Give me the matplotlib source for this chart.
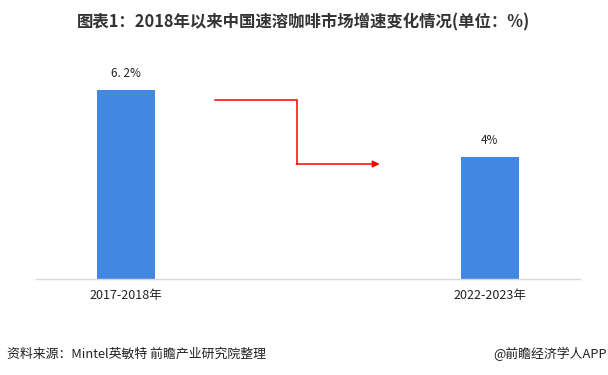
import matplotlib.pyplot as plt

plt.rcParams['font.family'] = ['Noto Sans CJK SC', 'DejaVu Sans']

categories = ['2017-2018年', '2022-2023年']
growth = [6.2, 4.0]
value_labels = ['6. 2%', '4%']

fig = plt.figure(figsize=(6.08, 3.75), dpi=100)
ax = fig.add_axes([36 / 608, (375 - 279) / 375, (580 - 36) / 608, (279 - 60) / 375])

x = [0, 1]
ax.bar(x, growth, width=0.16, color='#4287E2')
for xi, v, lab in zip(x, growth, value_labels):
    ax.text(xi, v + 0.32, lab, ha='center', va='bottom', fontsize=8.5, color='#222222')

ax.set_xlim(-0.248, 1.248)
ax.set_ylim(0, 7.18)
ax.set_xticks(x)
ax.set_xticklabels(categories, fontsize=9, color='#222222')
ax.tick_params(axis='x', length=0, pad=7)
ax.set_yticks([])
for s in ['top', 'right', 'left']:
    ax.spines[s].set_visible(False)
ax.spines['bottom'].set_color('#D9D9D9')
ax.spines['bottom'].set_linewidth(1)

# red step arrow
ax.plot([0.243, 0.47, 0.47], [5.87, 5.87, 3.77], color='red', lw=1.1,
        solid_joinstyle='miter')
ax.annotate('', xy=(0.697, 3.77), xytext=(0.468, 3.77),
            arrowprops=dict(arrowstyle='-|>', color='red', lw=1.1,
                            mutation_scale=10, shrinkA=0, shrinkB=0))

fig.text(0.499, 0.94, '图表1：2018年以来中国速溶咖啡市场增速变化情况(单位：%)',
         ha='center', va='center', fontsize=11.8, fontweight='bold', color='#333333')
fig.text(0.012, 0.056, '资料来源：Mintel英敏特 前瞻产业研究院整理',
         ha='left', va='center', fontsize=9.3, color='#222222')
fig.text(0.998, 0.056, '@前瞻经济学人APP',
         ha='right', va='center', fontsize=9.3, color='#222222')

fig.savefig('out.png', dpi=100)
